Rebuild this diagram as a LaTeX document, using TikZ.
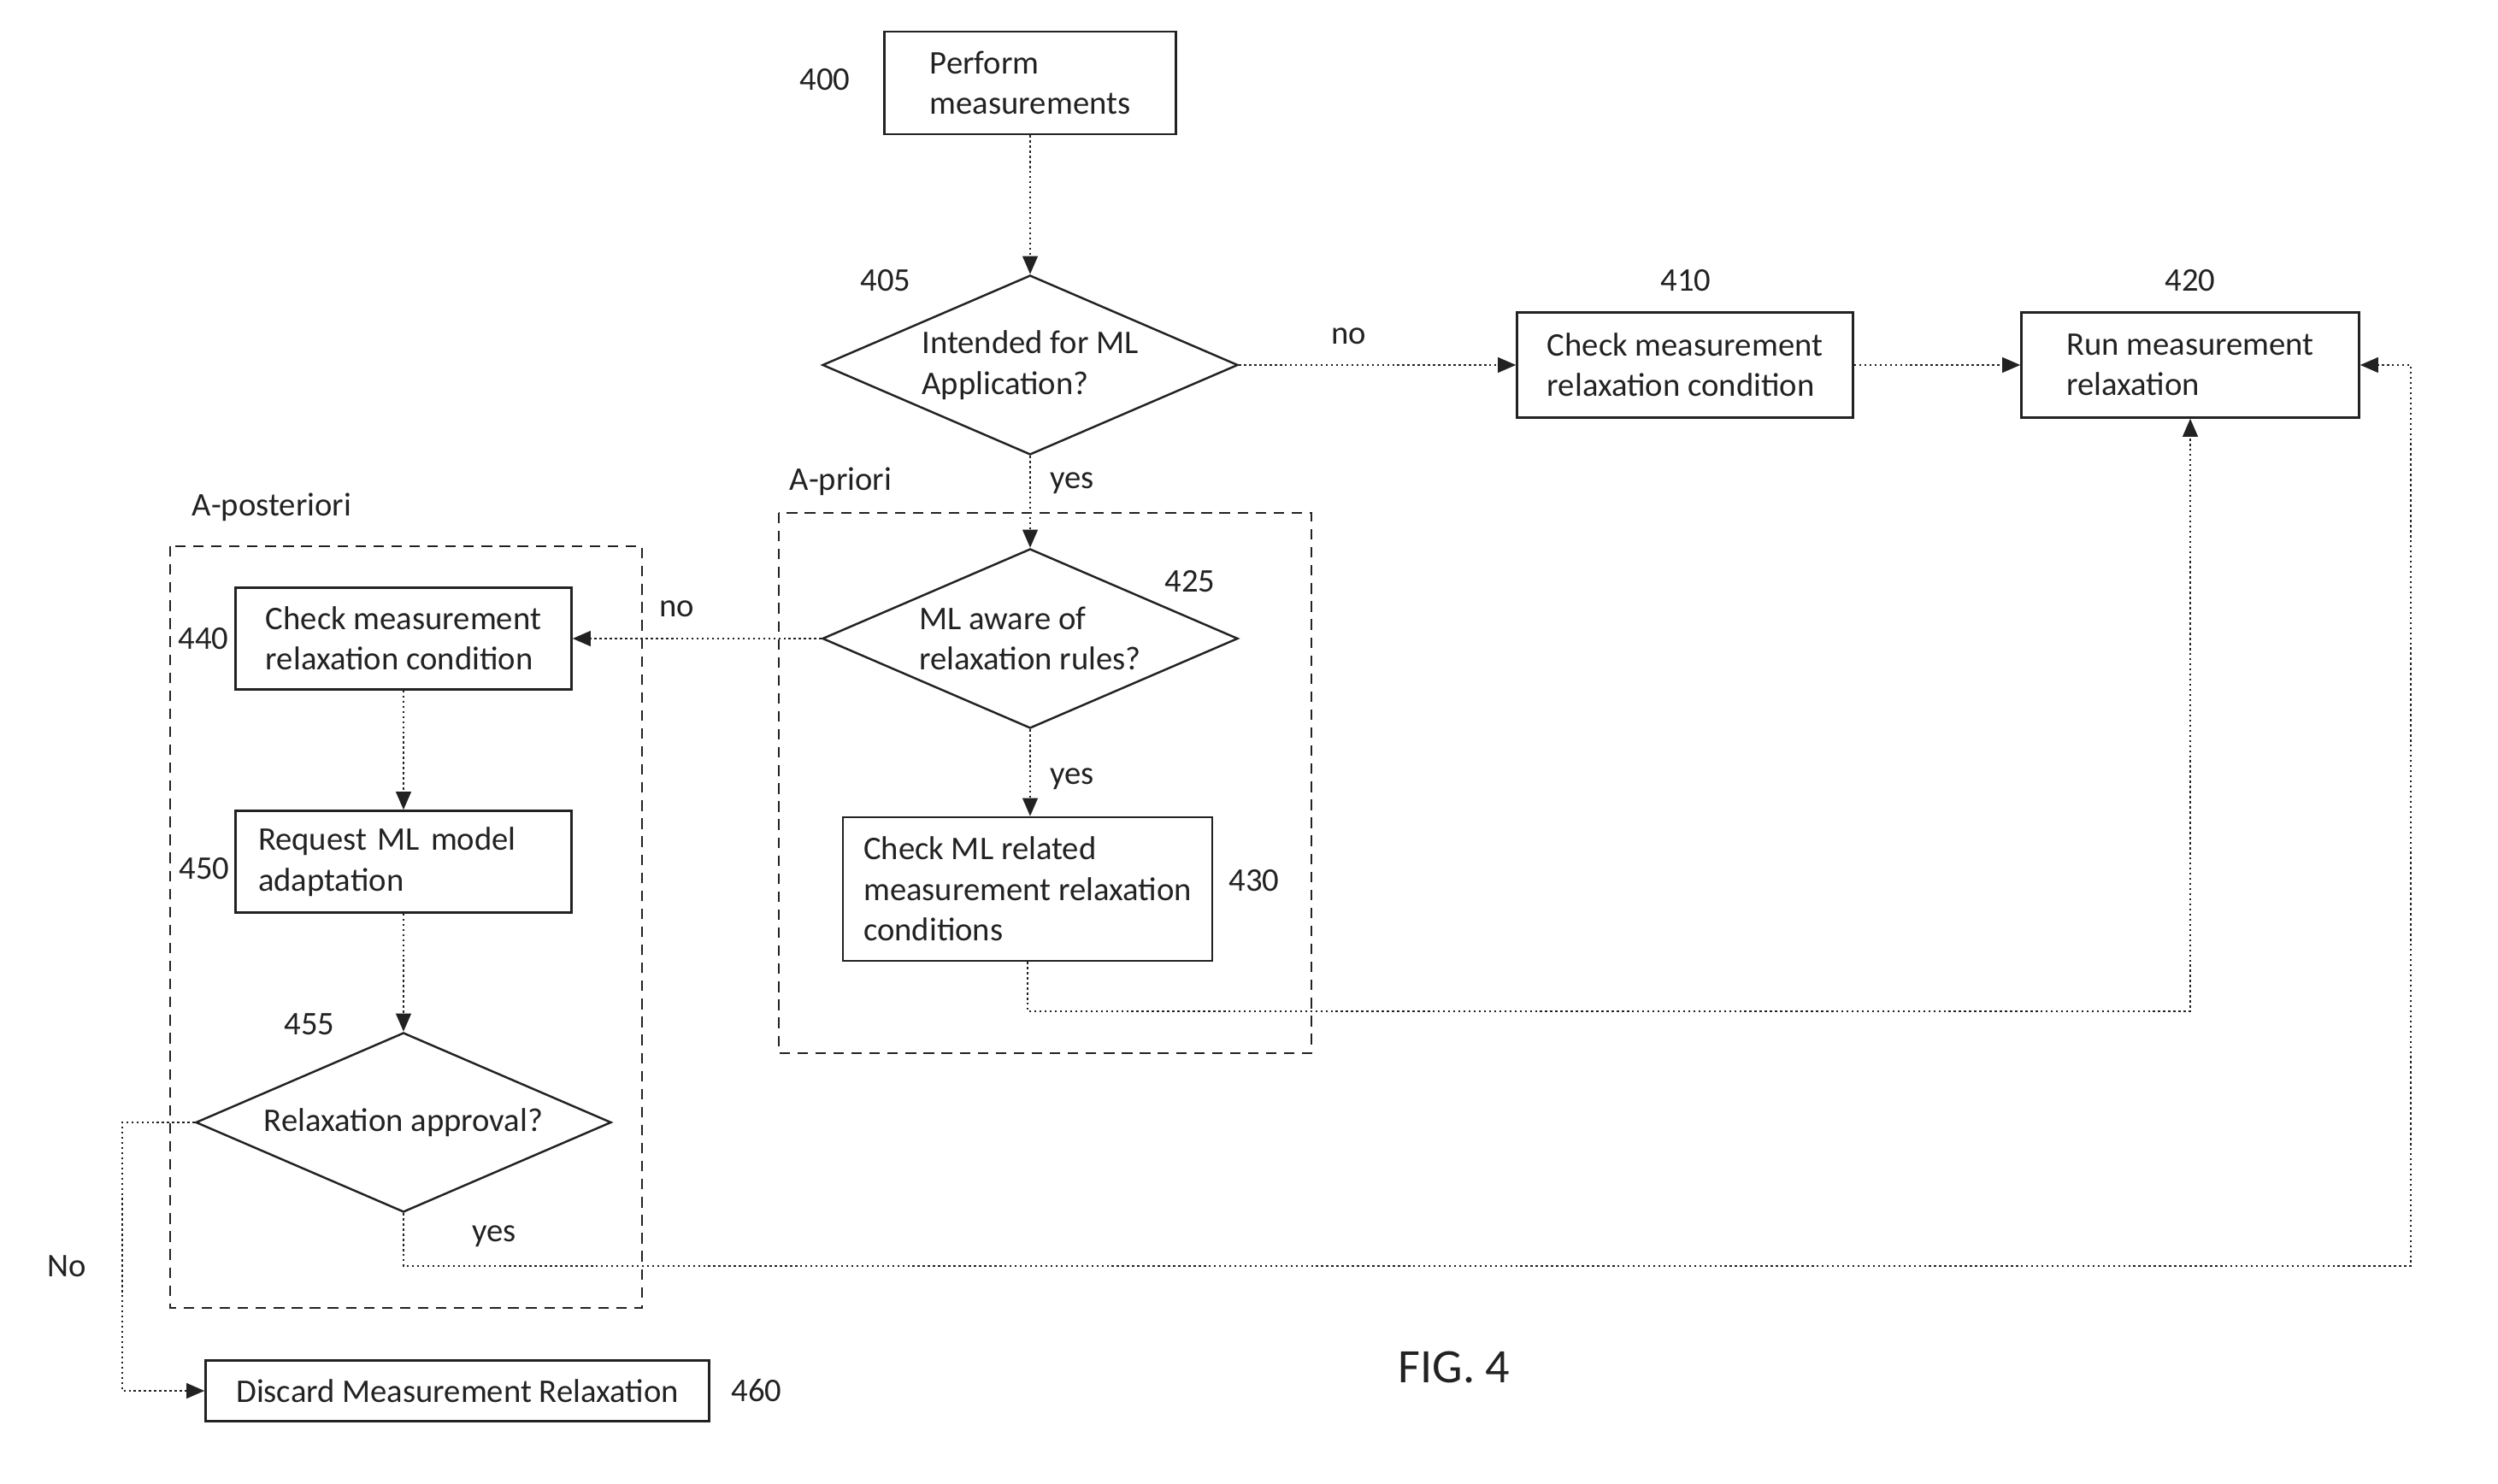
\documentclass[tikz,border=0pt]{standalone}
\usepackage{fontspec}
\setmainfont{Carlito}
\usepackage{xcolor}
\usetikzlibrary{arrows.meta,shapes.geometric}
\definecolor{inkgray}{HTML}{222222}

\begin{document}
\begin{tikzpicture}[line width=0.7pt, >={Triangle[length=6pt,width=5pt]},
  every node/.style={font=\fontsize{11}{13.5}\selectfont, text=inkgray},
  stepbox/.style={draw=inkgray, rectangle, align=left, inner sep=0pt},
  query/.style={draw=inkgray, diamond, aspect=2.3, align=left, inner sep=0pt,
    minimum width=4.86cm, minimum height=2.1cm},
  flow/.style={draw=inkgray, densely dotted, ->},
  group/.style={draw=inkgray, dash pattern=on 3.5pt off 2.5pt, line width=0.8pt}]
  \useasboundingbox (0,0) rectangle (29.22,17.35);

  % dashed groups
  \draw[group] (9.11,11.35) rectangle (15.34,5.03);
  \draw[group] (1.99,10.96) rectangle (7.51,2.05);
  \node[anchor=west] (tpriori) at (9.11,11.72) {A-priori};
  \node[anchor=west] (tposteriori) at (2.12,11.42) {A-posteriori};

  % steps
  \node[stepbox, minimum width=3.41cm, minimum height=1.2cm] (n400) at (12.05,16.38) {Perform\\measurements};
  \node[query] (d405) at (12.05,13.08) {Intended for ML\\Application?};
  \node[stepbox, minimum width=3.93cm, minimum height=1.23cm] (n410) at (19.71,13.08) {Check measurement\\relaxation condition};
  \node[stepbox, minimum width=3.95cm, minimum height=1.23cm] (n420) at (25.62,13.08) {Run measurement\\relaxation};
  \node[query] (d425) at (12.05,9.88) {ML aware of\\relaxation rules?};
  \node[stepbox, minimum width=4.32cm, minimum height=1.68cm] (n430) at (12.02,6.95) {Check ML related\\measurement relaxation\\conditions};
  \node[stepbox, minimum width=3.93cm, minimum height=1.19cm] (n440) at (4.72,9.88) {Check measurement\\relaxation condition};
  \node[stepbox, minimum width=3.93cm, minimum height=1.19cm, text width=3.4cm] (n450) at (4.72,7.27) {Request ML model\\adaptation};
  \node[query] (d455) at (4.72,4.22) {Relaxation approval?};
  \node[stepbox, minimum width=5.89cm, minimum height=0.71cm] (n460) at (5.35,1.08) {Discard Measurement Relaxation};

  % reference numbers
  \node (t400) at (9.65,16.42) {400};
  \node (t405) at (10.36,14.07) {405};
  \node (t410) at (19.72,14.07) {410};
  \node (t420) at (25.62,14.07) {420};
  \node (t425) at (13.92,10.55) {425};
  \node (t430) at (14.67,7.05) {430};
  \node (t440) at (2.38,9.88) {440};
  \node (t450) at (2.39,7.19) {450};
  \node (t455) at (3.62,5.37) {455};
  \node (t460) at (8.85,1.08) {460};
  \node[font=\fontsize{16}{19}\selectfont] (fig) at (17.01,1.36) {FIG. 4};

  % connectors
  \coordinate (c430) at (12.02,5.52);
  \coordinate (cno) at (1.43,4.22);
  \coordinate (cyes) at (28.20,2.54);
  \draw[flow] (n400.south) -- (d405.north);
  \draw[flow] (d405.east) -- (n410.west);
  \draw[flow] (n410.east) -- (n420.west);
  \draw[flow] (d405.south) -- (d425.north);
  \draw[flow] (d425.west) -- (n440.east);
  \draw[flow] (d425.south) -- (d425.south |- n430.north);
  \draw[flow] (n430.south) -- (c430) -| (n420.south);
  \draw[flow] (n440.south) -- (n450.north);
  \draw[flow] (n450.south) -- (d455.north);
  \draw[flow] (d455.west) -- (cno) |- (n460.west);
  \draw[flow] (d455.south) |- (cyes) |- (n420.east);

  % branch labels
  \node (lno1) at (15.78,13.42) {no};
  \node (lyes1) at (12.54,11.70) {yes};
  \node (lno2) at (7.92,10.23) {no};
  \node (lyes2) at (12.54,8.24) {yes};
  \node (lyes3) at (5.78,2.89) {yes};
  \node (lno3) at (0.78,2.54) {No};
\end{tikzpicture}
\end{document}
